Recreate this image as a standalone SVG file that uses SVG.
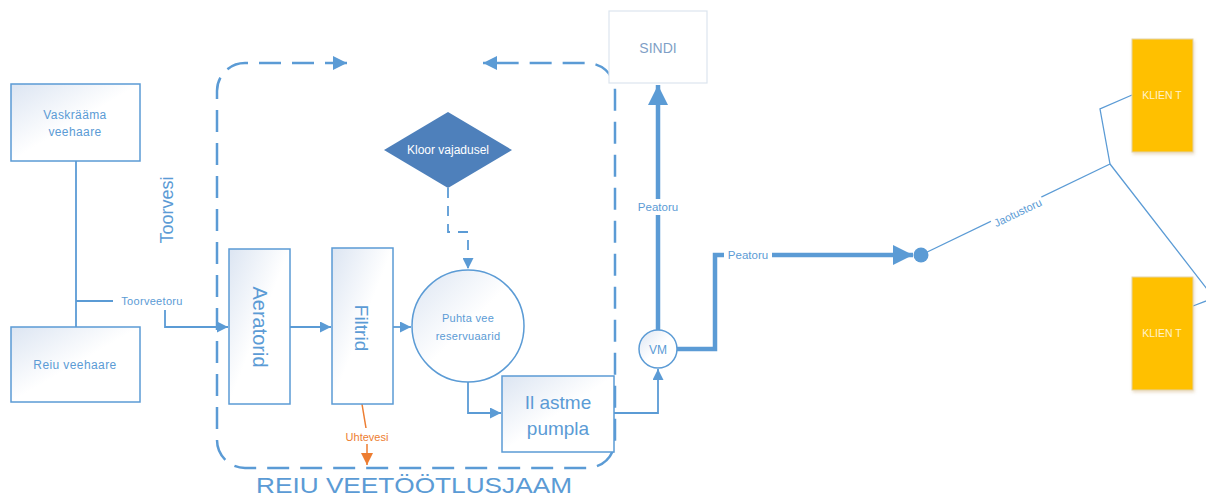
<svg xmlns="http://www.w3.org/2000/svg" width="1206" height="499" viewBox="0 0 1206 499">
<defs>
<linearGradient id="bg" x1="0" y1="0" x2="1" y2="1">
<stop offset="0" stop-color="#DCE5F2"/>
<stop offset="0.5" stop-color="#FFFFFF"/>
<stop offset="1" stop-color="#FFFFFF"/>
</linearGradient>
<marker id="ah" viewBox="0 0 10 10" refX="10" refY="5" markerWidth="11" markerHeight="11" markerUnits="userSpaceOnUse" orient="auto-start-reverse">
<path d="M0,0 L10,5 L0,10 Z" fill="#5B9BD5"/>
</marker>
<marker id="ahB" viewBox="0 0 10 10" refX="10" refY="5" markerWidth="20" markerHeight="20" markerUnits="userSpaceOnUse" orient="auto">
<path d="M0,0 L10,5 L0,10 Z" fill="#5B9BD5"/>
</marker>
<marker id="ahD" viewBox="0 0 10 10" refX="10" refY="5" markerWidth="14" markerHeight="14" markerUnits="userSpaceOnUse" orient="auto-start-reverse">
<path d="M0,0 L10,5 L0,10 Z" fill="#5B9BD5"/>
</marker>
<marker id="ahO" viewBox="0 0 10 10" refX="10" refY="5" markerWidth="12" markerHeight="12" markerUnits="userSpaceOnUse" orient="auto">
<path d="M0,0 L10,5 L0,10 Z" fill="#ED7D31"/>
</marker>
<filter id="sh" x="-20%" y="-20%" width="140%" height="140%">
<feDropShadow dx="1" dy="2" stdDeviation="1.5" flood-color="#C8A060" flood-opacity="0.35"/>
</filter>
</defs>
<style>
text{font-family:"Liberation Sans",Arial,sans-serif;fill:#5B9BD5}
.box{fill:url(#bg);stroke:#5B9BD5;stroke-width:1.5}
.ln{fill:none;stroke:#5B9BD5;stroke-width:1.8}
.thk{fill:none;stroke:#5B9BD5;stroke-width:4.5}
.thin{fill:none;stroke:#5B9BD5;stroke-width:1.3}
.lbl{fill:#FFFFFF}
.klient{fill:#FFC000;stroke:#E3D3A8;stroke-width:1}
.kt{fill:#FFF2CC;font-size:10.5px}
</style>
<rect width="1206" height="499" fill="#FFFFFF"/>

<g id="frame">
<path d="M347,63 H245 A28,28 0 0 0 217,91 V440 A28,28 0 0 0 245,468 H587 A28,28 0 0 0 615,440 V91 A28,28 0 0 0 587,63 H483" fill="none" stroke="#5B9BD5" stroke-width="2.5" stroke-dasharray="22,11" marker-start="url(#ahD)" marker-end="url(#ahD)"/>
<text x="414" y="493" font-size="22" text-anchor="middle" textLength="316" lengthAdjust="spacingAndGlyphs">REIU VEETÖÖTLUSJAAM</text>
<text transform="translate(173,210) rotate(-90)" font-size="18" text-anchor="middle">Toorvesi</text>
</g>

<g id="connectors">
<path class="ln" d="M76,161 V327"/>
<path class="ln" d="M76,301 H165 V327 H228" marker-end="url(#ah)"/>
<rect class="lbl" x="113" y="294" width="78" height="16"/>
<text x="152" y="305" font-size="11" text-anchor="middle" letter-spacing="0.3">Toorveetoru</text>
<path class="ln" d="M290,327 H331" marker-end="url(#ah)"/>
<path class="ln" d="M393,327 H411" marker-end="url(#ah)"/>
<path class="ln" d="M448,188 V232 H468 V269" stroke-dasharray="10,8" marker-end="url(#ah)"/>
<path class="ln" d="M468,382 V413 H501" marker-end="url(#ah)"/>
<path class="ln" d="M614,413 H658 V369" marker-end="url(#ah)"/>
<path d="M362,404 L366,428" fill="none" stroke="#ED7D31" stroke-width="1.5"/>
<text x="367" y="441" font-size="11" text-anchor="middle" style="fill:#ED7D31">Uhtevesi</text>
<path d="M367,444 V465" fill="none" stroke="#ED7D31" stroke-width="1.5" marker-end="url(#ahO)"/>
<path class="thk" d="M658,330 V85" marker-end="url(#ahB)"/>
<rect class="lbl" x="634" y="199" width="48" height="16"/>
<text x="658" y="211" font-size="11.5" text-anchor="middle">Peatoru</text>
<path class="thk" d="M677,349 H715 V255 H913" marker-end="url(#ahB)"/>
<rect class="lbl" x="724" y="247" width="48" height="16"/>
<text x="748" y="259" font-size="11.5" text-anchor="middle">Peatoru</text>
<path class="thin" d="M921,255 L1110,164"/>
<path class="thin" d="M1110,164 L1100,109 L1132,95"/>
<path class="thin" d="M1110,164 L1214,298 L1193,306"/>
<g transform="translate(1018,213) rotate(-25.7)">
<rect class="lbl" x="-28" y="-8" width="56" height="14"/>
<text x="0" y="3.5" font-size="11" text-anchor="middle">Jaotustoru</text>
</g>
</g>

<g id="vaskraama">
<rect class="box" x="11" y="84" width="129" height="77"/>
<text x="75" y="119" font-size="12" text-anchor="middle" letter-spacing="0.4">Vaskrääma</text>
<text x="75" y="136" font-size="12" text-anchor="middle" letter-spacing="0.4">veehaare</text>
</g>
<g id="reiu">
<rect class="box" x="11" y="327" width="129" height="75"/>
<text x="75" y="369" font-size="12" text-anchor="middle" letter-spacing="0.4">Reiu veehaare</text>
</g>
<g id="aeratorid">
<rect class="box" x="229" y="249" width="61" height="155"/>
<text transform="translate(253,327) rotate(90)" font-size="20" text-anchor="middle">Aeratorid</text>
</g>
<g id="filtrid">
<rect class="box" x="332" y="248" width="61" height="156"/>
<text transform="translate(355,328) rotate(90)" font-size="19" text-anchor="middle">Filtrid</text>
</g>
<g id="kloor">
<polygon points="448,112 512,150 448,188 384,150" fill="#4E80BB"/>
<text x="448" y="154" font-size="12" text-anchor="middle" style="fill:#FFFFFF">Kloor vajadusel</text>
</g>
<g id="reservuaarid">
<circle cx="468" cy="326" r="56" class="box"/>
<text x="468" y="322" font-size="11" text-anchor="middle" letter-spacing="0.3">Puhta vee</text>
<text x="468" y="340" font-size="11" text-anchor="middle" letter-spacing="0.3">reservuaarid</text>
</g>
<g id="pumpla">
<rect class="box" x="502" y="376" width="112" height="76"/>
<text x="558" y="409" font-size="19" text-anchor="middle">Il astme</text>
<text x="558" y="435" font-size="19" text-anchor="middle">pumpla</text>
</g>
<g id="vm">
<circle cx="658" cy="349" r="19" class="box"/>
<text x="658" y="353.5" font-size="12" text-anchor="middle">VM</text>
</g>
<g id="sindi">
<rect x="609" y="11" width="98" height="72" fill="#FFFFFF" stroke="#DCE5EE" stroke-width="1.2"/>
<text x="658" y="53" font-size="14" text-anchor="middle" style="fill:#7F9FC6">SINDI</text>
</g>
<g id="jaotus">
<circle cx="921" cy="255" r="7.5" fill="#5B9BD5"/>
</g>
<g id="klient1">
<rect class="klient" x="1132" y="39" width="61" height="113" filter="url(#sh)"/>
<text class="kt" x="1162" y="99" text-anchor="middle">KLIEN T</text>
</g>
<g id="klient2">
<rect class="klient" x="1132" y="277" width="61" height="113" filter="url(#sh)"/>
<text class="kt" x="1162" y="337" text-anchor="middle">KLIEN T</text>
</g>
</svg>
